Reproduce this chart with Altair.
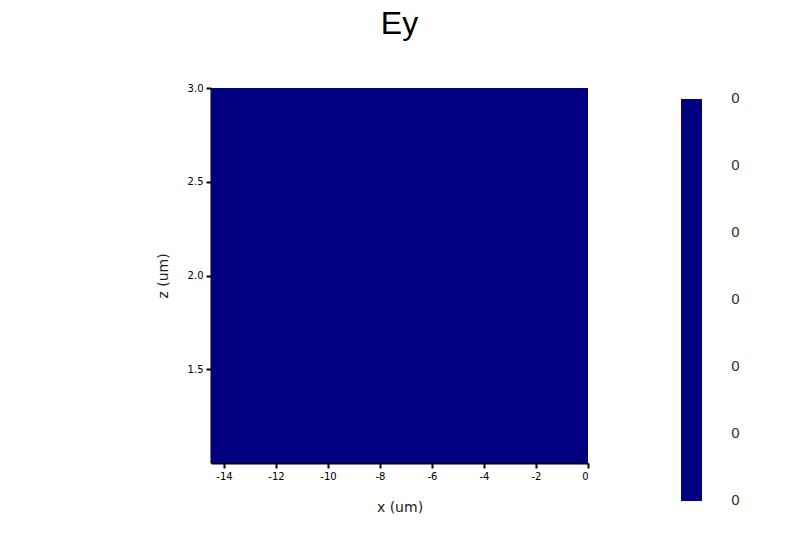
import altair as alt
import pandas as pd

# data ------------------------------------------------------------
x_start = [-14.5]
x_end = [0.0]
z_start = [1.0]
z_end = [3.0]
ey_values = [0.0]
x_ticks = [-14, -12, -10, -8, -6, -4, -2, 0]
z_ticks = [1.5, 2.0, 2.5, 3.0]
cbar_ticks = [0, 1, 2, 3, 4, 5, 6]
cbar_label = "0"

df = pd.DataFrame({"x": x_start, "x2": x_end, "z": z_start, "z2": z_end, "Ey": ey_values})

axis_common = dict(
    domainColor="black", domainWidth=2, tickColor="black", tickWidth=2,
    tickSize=5, labelFont="DejaVu Sans", labelFontSize=10, labelColor="black",
    titleFont="DejaVu Sans", titleFontSize=14, titleFontWeight="normal",
    titleColor="#222", grid=False,
)

chart = alt.Chart(df).mark_rect().encode(
    x=alt.X("x:Q", scale=alt.Scale(domain=[-14.5, 0], nice=False, zero=False),
            axis=alt.Axis(title="x (um)", values=x_ticks, labelExpr="toString(datum.value)",
                          labelPadding=3, titleY=44, titleBaseline="middle", **axis_common)),
    x2="x2:Q",
    y=alt.Y("z:Q", scale=alt.Scale(domain=[1.0, 3.0], nice=False, zero=False),
            axis=alt.Axis(title="z (um)", values=z_ticks, format=".1f", labelPadding=3,
                          titleX=-48, titleY=187.5, titleAngle=-90, titleBaseline="middle",
                          titleAlign="center", **axis_common)),
    y2="z2:Q",
    color=alt.Color("Ey:Q",
                    scale=alt.Scale(domain=[-0.001, 6.001], range=["#000080", "#000080"]),
                    legend=alt.Legend(
                        title=None, orient="none", legendX=470, legendY=11,
                        direction="vertical", gradientLength=402, gradientThickness=21,
                        gradientStrokeWidth=0, values=cbar_ticks,
                        labelExpr=f"'{cbar_label}'", labelOverlap=False,
                        labelFont="DejaVu Sans", labelFontSize=14, labelColor="#333",
                        labelOffset=29, padding=0)),
).properties(
    width=377, height=375,
    title=alt.TitleParams("Ey", fontSize=32, font="Liberation Sans", fontWeight="normal",
                          color="black", anchor="middle", baseline="bottom", offset=10),
    padding={"left": 148, "top": 0, "right": 5, "bottom": 5},
).configure_view(stroke=None)

chart.save("out.html", embed_options={"renderer": "svg", "actions": False})
